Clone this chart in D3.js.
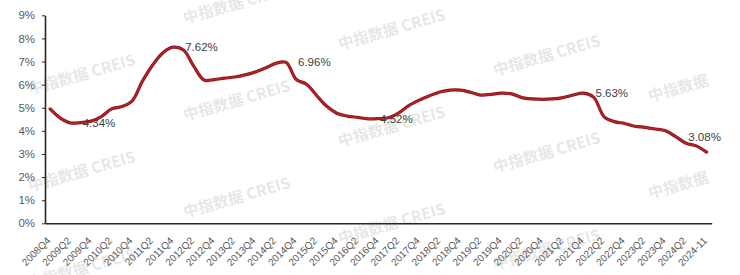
<!DOCTYPE html>
<html>
<head>
<meta charset="utf-8">
<script src="https://cdn.jsdelivr.net/npm/d3@7/dist/d3.min.js"></script>
<style>
  html, body { margin: 0; padding: 0; background: #fff; }
  svg { display: block; }
  text { font-family: "Liberation Sans", Arial, sans-serif; }
</style>
</head>
<body>
<svg id="chart" width="740" height="275"></svg>
<script>
// ---- data ----
const categories = [
  "2008Q4","2009Q1","2009Q2","2009Q3","2009Q4","2010Q1","2010Q2","2010Q3","2010Q4",
  "2011Q1","2011Q2","2011Q3","2011Q4","2012Q1","2012Q2","2012Q3","2012Q4",
  "2013Q1","2013Q2","2013Q3","2013Q4","2014Q1","2014Q2","2014Q3","2014Q4",
  "2015Q1","2015Q2","2015Q3","2015Q4","2016Q1","2016Q2","2016Q3","2016Q4",
  "2017Q1","2017Q2","2017Q3","2017Q4","2018Q1","2018Q2","2018Q3","2018Q4",
  "2019Q1","2019Q2","2019Q3","2019Q4","2020Q1","2020Q2","2020Q3","2020Q4",
  "2021Q1","2021Q2","2021Q3","2021Q4","2022Q1","2022Q2","2022Q3","2022Q4",
  "2023Q1","2023Q2","2023Q3","2023Q4","2024Q1","2024Q2","2024Q3","2024-11"
];
const values = [
  4.95, 4.55, 4.34, 4.36, 4.42, 4.62, 4.95, 5.05, 5.30,
  6.15, 6.85, 7.38, 7.62, 7.50, 6.80, 6.20, 6.22,
  6.28, 6.33, 6.42, 6.55, 6.72, 6.92, 6.96, 6.22,
  6.02, 5.52, 5.05, 4.75, 4.64, 4.58, 4.52, 4.53,
  4.57, 4.78, 5.10, 5.33, 5.52, 5.68, 5.76, 5.76,
  5.67, 5.55, 5.58, 5.63, 5.60, 5.44, 5.38, 5.36,
  5.38, 5.44, 5.55, 5.63, 5.45, 4.62, 4.40, 4.32,
  4.20, 4.15, 4.08, 4.00, 3.75, 3.46, 3.35, 3.08
];
const xTickLabels = categories.filter((c, i) => i % 2 === 0);
const yTicks = [0, 1, 2, 3, 4, 5, 6, 7, 8, 9];
// annotated points: category + placement
const labelRight = ["2009Q2", "2011Q4", "2014Q3", "2016Q3", "2021Q4"];
const labelAbove = ["2024-11"];
const watermarkText = "中指数据 CREIS";

// ---- layout ----
const svg = d3.select("#chart");
const plotLeft = 45, plotRight = 711.7, plotTop = 15.3, plotBottom = 223.3;

const x = d3.scaleBand().domain(categories).range([plotLeft, plotRight]).paddingInner(0).paddingOuter(0);
const cx = c => x(c) + x.bandwidth() / 2;
const y = d3.scaleLinear().domain([0, 9]).range([plotBottom, plotTop]);

// ---- watermarks ----
const wm = svg.append("g").attr("class", "watermark");
for (let c = 0; c < 5; c++) {
  for (let r = -1; r < 4; r++) {
    const wx = 30 + 155 * c;
    const wy = 95 + 26 * c + 97 * r;
    if (wy < 15 || wy > 292) continue;
    wm.append("text")
      .attr("transform", `translate(${wx},${wy}) rotate(-16)`)
      .attr("font-size", 15.5)
      .attr("font-weight", "bold")
      .attr("fill", "#c4c4c4")
      .attr("fill-opacity", 0.42)
      .style("font-family", "'Noto Sans CJK SC', 'Liberation Sans', sans-serif")
      .text(c === 4 ? "中指数据" : watermarkText);
  }
}

// ---- y axis ----
const yAxis = d3.axisLeft(y).tickValues(yTicks).tickFormat(d => d + "%")
  .tickSize(3).tickSizeOuter(0).tickPadding(7);
const gy = svg.append("g").attr("transform", `translate(${plotLeft},0)`).call(yAxis);
gy.select(".domain").attr("stroke", "#262626").attr("stroke-width", 1.6);
gy.selectAll(".tick line").attr("stroke", "#262626").attr("stroke-width", 1);
gy.selectAll(".tick text").attr("fill", "#595959").attr("font-size", 11.5)
  .style("font-family", "'Liberation Sans', Arial, sans-serif");

// ---- x axis ----
const xAxis = d3.axisBottom(x).tickValues(xTickLabels).tickSize(0).tickSizeOuter(0);
const gx = svg.append("g").attr("transform", `translate(0,${plotBottom})`).call(xAxis);
gx.select(".domain").attr("stroke", "#262626").attr("stroke-width", 1.6);
gx.selectAll(".tick text")
  .attr("x", 0).attr("y", 0).attr("dy", 0)
  .attr("text-anchor", "end")
  .attr("transform", "translate(1,18) rotate(-45)")
  .attr("fill", "#595959").attr("font-size", 10)
  .style("font-family", "'Liberation Sans', Arial, sans-serif");

// ---- line ----
const data = categories.map((c, i) => ({ c, v: values[i] }));
const line = d3.line().x(d => cx(d.c)).y(d => y(d.v)).curve(d3.curveCatmullRom.alpha(0.5));
svg.append("path").datum(data).attr("d", line)
  .attr("fill", "none").attr("stroke", "#86151a").attr("stroke-width", 3.2)
  .attr("stroke-linejoin", "round").attr("stroke-linecap", "round");
svg.append("path").datum(data).attr("d", line)
  .attr("fill", "none").attr("stroke", "#b8222a").attr("stroke-width", 1.6)
  .attr("stroke-linejoin", "round").attr("stroke-linecap", "round");

// ---- data labels ----
const lbl = svg.append("g").attr("fill", "#404040").attr("font-size", 11.5)
  .style("font-family", "'Liberation Sans', Arial, sans-serif");
data.filter(d => labelRight.includes(d.c)).forEach(d => {
  lbl.append("text").attr("x", cx(d.c) + 12).attr("y", y(d.v)).attr("dy", "0.35em")
    .text(d.v.toFixed(2) + "%");
});
data.filter(d => labelAbove.includes(d.c)).forEach(d => {
  lbl.append("text").attr("x", cx(d.c) - 2).attr("y", y(d.v) - 15).attr("dy", "0.35em")
    .attr("text-anchor", "middle")
    .text(d.v.toFixed(2) + "%");
});
</script>
</body>
</html>
